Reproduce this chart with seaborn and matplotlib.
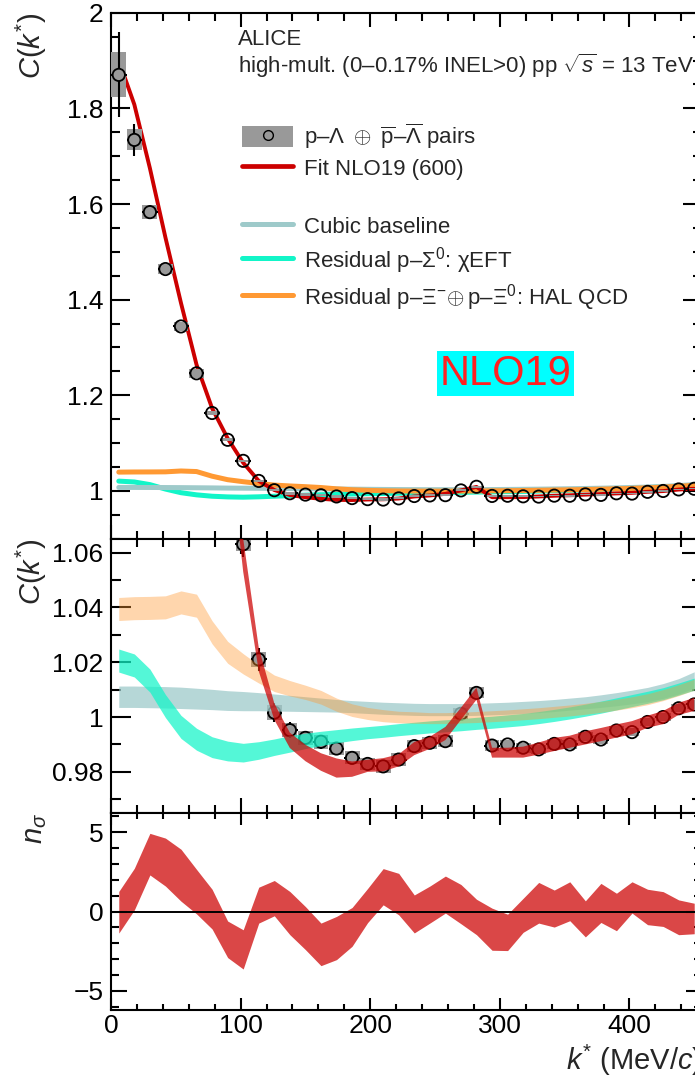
import numpy as np
import matplotlib
matplotlib.use("Agg")
import matplotlib.pyplot as plt
from matplotlib.patches import Patch
from matplotlib.lines import Line2D
from matplotlib.ticker import MultipleLocator, FuncFormatter
import seaborn as sns

sns.set_theme(style="white")
plt.rcParams["font.family"] = ["Liberation Sans", "DejaVu Sans"]
plt.rcParams["mathtext.fontset"] = "custom"
plt.rcParams["mathtext.rm"] = "Liberation Sans"
plt.rcParams["mathtext.it"] = "Liberation Sans:italic"
plt.rcParams["mathtext.bf"] = "Liberation Sans:bold"
plt.rcParams["axes.unicode_minus"] = True

# ---------------- data ----------------
kstar = [6, 18, 30, 42, 54, 66, 78, 90, 102, 114, 126, 138, 150, 162, 174, 186,
         198, 210, 222, 234, 246, 258, 270, 282, 294, 306, 318, 330, 342, 354,
         366, 378, 390, 402, 414, 426, 438, 450]

cf_data = [1.870, 1.734, 1.583, 1.464, 1.344, 1.246, 1.163, 1.107, 1.063, 1.021,
           1.0016, 0.9952, 0.9924, 0.9910, 0.9885, 0.9851, 0.9829, 0.9820, 0.9845,
           0.9894, 0.9906, 0.9912, 1.0012, 1.0088, 0.9896, 0.9900, 0.9888, 0.9882,
           0.9902, 0.9900, 0.9928, 0.9918, 0.9951, 0.9945, 0.9982, 1.0000, 1.0032,
           1.0046]

cf_stat = [0.089, 0.034, 0.014, 0.009, 0.007, 0.006, 0.005, 0.005, 0.0045, 0.0043,
           0.0035, 0.0030, 0.0025, 0.0025, 0.0022, 0.0022, 0.0020, 0.0020, 0.0020,
           0.0020, 0.0018, 0.0018, 0.0018, 0.0018, 0.0016, 0.0016, 0.0015, 0.0015,
           0.0015, 0.0015, 0.0015, 0.0014, 0.0014, 0.0014, 0.0014, 0.0014, 0.0014,
           0.0014]

cf_syst = [0.047, 0.022, 0.014, 0.011, 0.010, 0.009, 0.005, 0.0035, 0.0025, 0.0027,
           0.0027, 0.0026, 0.0025, 0.0025, 0.0024, 0.0024, 0.0023, 0.0023, 0.0022,
           0.0022, 0.0021, 0.0021, 0.0020, 0.0020, 0.0019, 0.0018, 0.0018, 0.0017,
           0.0017, 0.0016, 0.0016, 0.0016, 0.0015, 0.0015, 0.0015, 0.0015, 0.0015,
           0.0015]

# NLO19 (600) fit
fit_cf = [1.900, 1.808, 1.675, 1.530, 1.393, 1.264, 1.173, 1.110, 1.059, 1.021,
          1.002, 0.9915, 0.9869, 0.9836, 0.9814, 0.9810, 0.9822, 0.9826, 0.9842,
          0.9885, 0.9906, 0.9940, 1.0012, 1.0085, 0.9870, 0.9870, 0.9872, 0.9885,
          0.9900, 0.9910, 0.9924, 0.9936, 0.9949, 0.9961, 0.9983, 0.9998, 1.0030,
          1.0046]
fit_err = [0.006, 0.006, 0.006, 0.006, 0.006, 0.006, 0.006, 0.006, 0.006, 0.0043,
           0.0030, 0.0028, 0.0030, 0.0032, 0.0035, 0.0028, 0.0022, 0.0024, 0.0022,
           0.0024, 0.0022, 0.0024, 0.0022, 0.0022, 0.0018, 0.0018, 0.0020, 0.0022,
           0.0024, 0.0022, 0.0024, 0.0024, 0.0024, 0.0024, 0.0022, 0.0024, 0.0022,
           0.0024]

# cubic baseline
base_cf = [1.0074, 1.0074, 1.0073, 1.0072, 1.0070, 1.0067, 1.0064, 1.0060, 1.0058,
           1.0056, 1.0053, 1.0050, 1.0047, 1.0044, 1.0041, 1.0038, 1.0035, 1.0032,
           1.0030, 1.0028, 1.0027, 1.0027, 1.0027, 1.0028, 1.0030, 1.0032, 1.0035,
           1.0038, 1.0042, 1.0047, 1.0052, 1.0058, 1.0065, 1.0073, 1.0082, 1.0095,
           1.0112, 1.0135]
base_err = [0.0039, 0.0039, 0.0039, 0.0039, 0.0039, 0.0038, 0.0037, 0.0036, 0.0035,
            0.0033, 0.0031, 0.0029, 0.0027, 0.0025, 0.0023, 0.0022, 0.0022, 0.0022,
            0.0022, 0.0022, 0.0022, 0.0022, 0.0022, 0.0022, 0.0022, 0.0022, 0.0022,
            0.0022, 0.0022, 0.0022, 0.0022, 0.0023, 0.0024, 0.0025, 0.0026, 0.0027,
            0.0028, 0.0030]

# residual p-Sigma0 (chiEFT)
sig_cf = [1.0206, 1.0188, 1.0133, 1.0040, 0.9964, 0.9919, 0.9890, 0.9876, 0.9870,
          0.9878, 0.9890, 0.9902, 0.9913, 0.9922, 0.9930, 0.9937, 0.9943, 0.9948,
          0.9954, 0.9959, 0.9964, 0.9968, 0.9972, 0.9977, 0.9981, 0.9986, 0.9991,
          0.9998, 1.0006, 1.0015, 1.0025, 1.0036, 1.0048, 1.0060, 1.0072, 1.0085,
          1.0102, 1.0120]
sig_err = [0.0042, 0.0042, 0.0042, 0.0042, 0.0042, 0.0040, 0.0038, 0.0036, 0.0034,
           0.0032, 0.0030, 0.0030, 0.0028, 0.0026, 0.0024, 0.0023, 0.0022, 0.0022,
           0.0022, 0.0022, 0.0022, 0.0022, 0.0022, 0.0022, 0.0022, 0.0022, 0.0022,
           0.0022, 0.0022, 0.0022, 0.0022, 0.0022, 0.0022, 0.0022, 0.0022, 0.0022,
           0.0022, 0.0022]

# residual p-Xi (HAL QCD)
xi_cf = [1.0394, 1.0397, 1.0398, 1.0400, 1.0418, 1.0406, 1.0309, 1.0236, 1.0194,
         1.0157, 1.0123, 1.0105, 1.0090, 1.0072, 1.0045, 1.0025, 1.0013, 1.0005,
         1.0000, 0.9998, 0.9996, 0.9996, 0.9998, 1.0000, 1.0003, 1.0006, 1.0010,
         1.0014, 1.0019, 1.0024, 1.0030, 1.0037, 1.0045, 1.0054, 1.0065, 1.0080,
         1.0098, 1.0118]
xi_err = [0.0042, 0.0042, 0.0042, 0.0042, 0.0042, 0.0042, 0.0042, 0.0040, 0.0037,
          0.0033, 0.0030, 0.0028, 0.0026, 0.0025, 0.0024, 0.0023, 0.0022, 0.0022,
          0.0021, 0.0021, 0.0020, 0.0020, 0.0020, 0.0020, 0.0020, 0.0020, 0.0020,
          0.0020, 0.0020, 0.0020, 0.0020, 0.0020, 0.0020, 0.0020, 0.0020, 0.0020,
          0.0020, 0.0020]

# deviation of data from fit in units of sigma
nsig_lo = [-1.36, 0.10, 2.30, 1.60, 0.65, -0.15, -1.10, -2.90, -3.62, -0.73,
           -0.27, -1.46, -2.40, -3.41, -3.03, -2.19, -0.70, 0.42, -0.21, -1.35,
           -0.73, -0.10, -0.77, -1.46, -2.44, -2.46, -1.31, -0.73, -0.98, -0.58,
           -1.60, -0.69, -1.21, -0.10, -0.83, -0.94, -1.46, -1.40]
nsig_hi = [1.26, 2.72, 4.92, 4.62, 3.92, 2.65, 1.40, -0.60, -1.15, 1.53,
           1.95, 1.26, 0.31, -0.73, -0.31, 0.25, 1.45, 2.70, 2.40, 1.04,
           1.60, 2.23, 1.70, 0.77, 0.21, -0.17, 0.83, 1.83, 1.35, 1.87,
           0.67, 1.77, 1.15, 1.87, 1.40, 1.25, 0.73, 0.52]

x_ticks = [0, 100, 200, 300, 400]

k = np.array(kstar, dtype=float)
cf = np.array(cf_data)
stat = np.array(cf_stat)
syst = np.array(cf_syst)
fit = np.array(fit_cf)
fite = np.array(fit_err)

# ---------------- colours ----------------
RED = "#cc0000"
BASE = "#9ecaca"
TEAL = "#12f5c8"
ORANGE = "#ff9933"
GREY = "#999999"

MARKER_S = 78          # scatter size (pt^2)
MARKER_R_PX = 6.0      # marker radius in pixels
XERR = 6.0             # half bin width

# ---------------- layout ----------------
W, H = 695, 1075
fig = plt.figure(figsize=(W / 100, H / 100), dpi=100)
left, axw = 111 / W, 591 / W


def add_axes(top_px, bot_px):
    return fig.add_axes([left, (H - bot_px) / H, axw, (bot_px - top_px) / H])


ax1 = add_axes(12.7, 538.8)
ax2 = add_axes(538.8, 813.0)
ax3 = add_axes(813.0, 1010.0)


def gfmt(v, pos):
    return ("%g" % v).replace("-", "\u2212")


def style(ax, ymaj, ymin, ylen, xlen):
    ax.set_xlim(0, 456)
    ax.xaxis.set_major_locator(MultipleLocator(100))
    ax.xaxis.set_minor_locator(MultipleLocator(20))
    ax.yaxis.set_major_locator(MultipleLocator(ymaj))
    ax.yaxis.set_minor_locator(MultipleLocator(ymin))
    ax.yaxis.set_major_formatter(FuncFormatter(gfmt))
    ax.tick_params(which="both", direction="in", top=True, right=True,
                   bottom=True, left=True, width=1.5, color="black",
                   labelsize=19, labelcolor="black")
    ax.tick_params(axis="y", which="major", length=ylen[0], pad=5.5)
    ax.tick_params(axis="y", which="minor", length=ylen[1])
    ax.tick_params(axis="x", which="major", length=xlen[0], pad=3)
    ax.tick_params(axis="x", which="minor", length=xlen[1])
    for s in ax.spines.values():
        s.set_linewidth(1.5)
        s.set_color("black")
    ax.set_facecolor("white")
    ax.grid(False)


def draw_data(ax, z):
    """Systematic boxes, statistical bars kept outside the open markers."""
    ax.bar(k, 2 * syst, bottom=cf - syst, width=11.5, color=GREY,
           linewidth=0, zorder=z)
    # marker radius expressed in data units of this axes
    bb = ax.get_window_extent()
    x0, x1 = ax.get_xlim()
    y0, y1 = ax.get_ylim()
    rx = MARKER_R_PX * (x1 - x0) / bb.width
    ry = MARKER_R_PX * (y1 - y0) / bb.height
    up = stat > ry
    kw = dict(colors="black", linewidth=1.5, zorder=z + 0.1)
    ax.vlines(k[up], cf[up] + ry, cf[up] + stat[up], **kw)
    ax.vlines(k[up], cf[up] - stat[up], cf[up] - ry, **kw)
    ax.hlines(cf, k + rx, k + XERR, **kw)
    ax.hlines(cf, k - XERR, k - rx, **kw)
    sns.scatterplot(x=k, y=cf, ax=ax, marker="o", s=MARKER_S, facecolor="none",
                    edgecolor="black", linewidth=1.3, zorder=z + 0.2)


# ---------------- top panel ----------------
style(ax1, 0.2, 0.05, (13.7, 6.5), (9.8, 5.5))
ax1.set_ylim(0.9, 2.0)
sns.lineplot(x=k, y=sig_cf, ax=ax1, color=TEAL, lw=3.6, sort=False,
             estimator=None, zorder=2)
sns.lineplot(x=k, y=base_cf, ax=ax1, color=BASE, lw=3.6, sort=False,
             estimator=None, zorder=2.1)
sns.lineplot(x=k, y=xi_cf, ax=ax1, color=ORANGE, lw=3.6, sort=False,
             estimator=None, zorder=2.2)
sns.lineplot(x=k, y=fit, ax=ax1, color=RED, lw=2.8, sort=False,
             estimator=None, zorder=3)
draw_data(ax1, 4)
ax1.tick_params(labelbottom=False)
ax1.set_xlabel("")
ax1.set_ylabel(r"$C(k^{*})$", fontsize=21, loc="top")
ax1.yaxis.set_label_coords(-0.105, 1.0)

ax1.text(0.2149, 0.9386, "ALICE", transform=ax1.transAxes, fontsize=16,
         va="baseline", ha="left")
ax1.text(0.2149, 0.8854,
         r"high-mult. (0–0.17% INEL>0) pp $\sqrt{s}$ = 13 TeV",
         transform=ax1.transAxes, fontsize=16, va="baseline", ha="left")
ax1.text(0.668, 0.314, "NLO19", transform=ax1.transAxes, fontsize=30,
         color="#ff2020", ha="center", va="center",
         bbox=dict(boxstyle="square,pad=0.06", fc="#00ffff", ec="none"))

handles = [
    (Patch(facecolor=GREY, edgecolor="none"),
     Line2D([], [], marker="o", mfc="none", mec="black", ls="none", ms=7, mew=1)),
    Line2D([], [], color=RED, lw=3.4),
    Line2D([], [], color="none", lw=0),
    Line2D([], [], color=BASE, lw=3.6),
    Line2D([], [], color=TEAL, lw=3.6),
    Line2D([], [], color=ORANGE, lw=3.6),
]
labels = [
    r"p–$\Lambda\ \oplus\ \overline{\mathrm{p}}$–$\overline{\Lambda}$ pairs",
    "Fit NLO19 (600)",
    " ",
    "Cubic baseline",
    r"Residual p–$\Sigma^{0}$: χEFT",
    r"Residual p–$\Xi^{-}\!\oplus$p–$\Xi^{0}$: HAL QCD",
]
ax1.legend(handles, labels, loc="upper left", bbox_to_anchor=(0.2217, 0.793),
           frameon=False, fontsize=16, handlelength=2.3, handleheight=1.05,
           handletextpad=0.5, labelspacing=0.28, borderpad=0, borderaxespad=0)

# ---------------- middle panel ----------------
style(ax2, 0.02, 0.01, (14.4, 7.0), (10.5, 6.0))
ax2.set_ylim(0.965, 1.065)
draw_data(ax2, 2)
ax2.fill_between(k, np.array(base_cf) - base_err, np.array(base_cf) + base_err,
                 color=BASE, alpha=0.75, lw=0, zorder=5)
ax2.fill_between(k, np.array(sig_cf) - sig_err, np.array(sig_cf) + sig_err,
                 color=TEAL, alpha=0.72, lw=0, zorder=5.1)
ax2.fill_between(k, np.array(xi_cf) - xi_err, np.array(xi_cf) + xi_err,
                 color=ORANGE, alpha=0.4, lw=0, zorder=5.2)
ax2.fill_between(k, fit - fite, fit + fite, color=RED, alpha=0.72, lw=0,
                 zorder=5.3)
ax2.tick_params(labelbottom=False)
ax2.set_ylabel(r"$C(k^{*})$", fontsize=21, loc="top")
ax2.yaxis.set_label_coords(-0.105, 1.0)

# ---------------- bottom panel ----------------
style(ax3, 5, 1, (11.3, 5.8), (8.6, 4.3))
ax3.set_ylim(-6.2, 6.2)
ax3.fill_between(k, nsig_lo, nsig_hi, color=RED, alpha=0.72, lw=0, zorder=2)
ax3.axhline(0, color="black", lw=1.4, zorder=3)
ax3.set_xticks(x_ticks)
ax3.xaxis.set_major_formatter(FuncFormatter(gfmt))
ax3.set_ylabel(r"$n_{\sigma}$", fontsize=21, loc="top")
ax3.yaxis.set_label_coords(-0.105, 1.0)
ax3.set_xlabel(r"$k^{*}$ (MeV/$c$)", fontsize=21, loc="right")
ax3.xaxis.set_label_coords(1.0, -0.305)
ax3.xaxis.label.set_va("baseline")

fig.savefig("out.png", dpi=100, facecolor="white")
